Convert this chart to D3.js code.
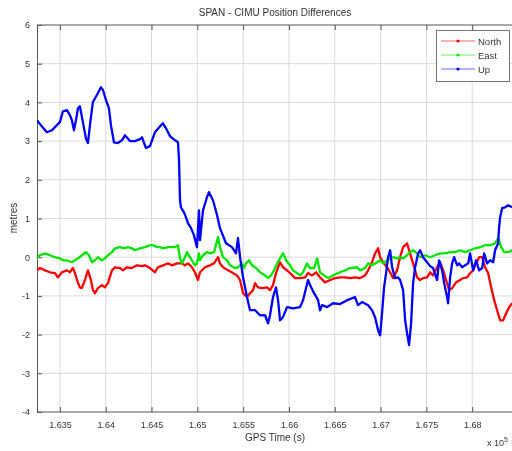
<!DOCTYPE html>
<html>
<head>
<meta charset="utf-8">
<script src="https://cdn.jsdelivr.net/npm/d3@7"></script>
<style>
        body { margin: 0; background: #fff; }
        svg { display: block; font-family: "Liberation Sans", Arial, sans-serif; }
</style>
</head>
<body>
<svg id="chart" width="512" height="451"></svg>
<script>
// SPAN - CIMU position differences, GPS time in seconds, differences in metres

var seriesNames = ['North', 'East', 'Up']
var seriesColors = ['#ff0000', '#00e600', '#0000ff']

var xTicks = [163500, 164000, 164500, 165000, 165500, 166000, 166500, 167000, 167500, 168000]
var yTicks = [-4, -3, -2, -1, 0, 1, 2, 3, 4, 5, 6]

var northData = [
        [163249,-0.34],[163282,-0.28],[163336,-0.34],[163391,-0.39],[163446,-0.41],[163478,-0.52],
        [163522,-0.39],[163577,-0.34],[163609,-0.39],[163642,-0.28],[163664,-0.41],[163686,-0.59],
        [163718,-0.78],[163740,-0.80],[163773,-0.59],[163806,-0.34],[163839,-0.59],[163860,-0.85],
        [163882,-0.93],[163915,-0.80],[163959,-0.72],[163991,-0.78],[164024,-0.67],[164068,-0.34],
        [164101,-0.26],[164155,-0.28],[164188,-0.34],[164232,-0.26],[164286,-0.28],[164341,-0.21],
        [164396,-0.23],[164428,-0.21],[164483,-0.28],[164538,-0.39],[164570,-0.26],[164625,-0.21],
        [164680,-0.16],[164723,-0.21],[164778,-0.16],[164832,-0.16],[164865,-0.21],[164898,-0.16],
        [164942,-0.26],[164974,-0.39],[165007,-0.59],[165029,-0.39],[165084,-0.26],[165138,-0.21],
        [165182,-0.16],[165226,0.00],[165247,-0.16],[165280,-0.26],[165335,-0.34],[165389,-0.41],
        [165433,-0.47],[165466,-0.59],[165499,-0.93],[165542,-1.03],[165575,-0.93],[165608,-0.85],
        [165630,-0.67],[165662,-0.78],[165706,-0.80],[165761,-0.78],[165793,-0.85],[165826,-0.72],
        [165859,-0.41],[165881,-0.26],[165903,-0.13],[165935,-0.26],[165979,-0.34],[166012,-0.41],
        [166066,-0.54],[166121,-0.54],[166176,-0.52],[166208,-0.41],[166252,-0.47],[166296,-0.39],
        [166339,-0.52],[166394,-0.65],[166449,-0.59],[166503,-0.54],[166558,-0.52],[166612,-0.52],
        [166667,-0.54],[166721,-0.52],[166776,-0.54],[166831,-0.47],[166864,-0.34],[166907,-0.13],
        [166940,0.10],[166973,0.23],[166995,0.00],[167027,-0.13],[167071,-0.26],[167104,-0.39],
        [167137,-0.54],[167180,-0.34],[167213,0.00],[167246,0.26],[167289,0.36],[167322,0.10],
        [167355,-0.16],[167399,-0.52],[167431,-0.59],[167464,-0.54],[167508,-0.52],[167541,-0.39],
        [167573,-0.47],[167617,-0.26],[167650,-0.13],[167683,-0.34],[167715,-0.59],[167748,-0.85],
        [167781,-0.80],[167825,-0.65],[167868,-0.59],[167901,-0.54],[167945,-0.52],[167977,-0.41],
        [168010,-0.34],[168043,-0.16],[168076,0.00],[168109,0.00],[168141,-0.26],[168174,-0.41],
        [168207,-0.78],[168240,-1.11],[168272,-1.37],[168305,-1.63],[168338,-1.63],[168371,-1.45],
        [168404,-1.29],[168436,-1.19]
]

var eastData = [
        [163249,0.00],[163282,0.05],[163336,0.10],[163391,0.05],[163446,0.00],[163500,-0.03],
        [163533,-0.08],[163577,-0.08],[163631,-0.13],[163664,-0.08],[163697,-0.03],[163740,0.05],
        [163784,0.13],[163817,0.05],[163850,-0.13],[163882,-0.08],[163915,0.00],[163959,-0.08],
        [163991,-0.03],[164024,0.05],[164068,0.13],[164101,0.23],[164155,0.26],[164210,0.23],
        [164243,0.26],[164286,0.23],[164319,0.18],[164374,0.23],[164428,0.26],[164483,0.31],
        [164516,0.31],[164559,0.26],[164592,0.26],[164625,0.23],[164680,0.26],[164723,0.26],
        [164756,0.26],[164789,0.31],[164811,-0.03],[164832,-0.16],[164865,0.00],[164887,0.13],
        [164920,0.00],[164953,-0.13],[164974,-0.21],[164996,-0.16],[165018,0.10],[165029,-0.08],
        [165062,0.05],[165105,0.13],[165138,0.10],[165182,0.13],[165226,0.52],[165247,0.26],
        [165280,0.00],[165324,-0.08],[165357,-0.21],[165411,-0.28],[165444,-0.26],[165488,-0.16],
        [165509,-0.28],[165531,-0.16],[165564,-0.08],[165597,-0.21],[165641,-0.28],[165684,-0.39],
        [165739,-0.47],[165772,-0.54],[165804,-0.47],[165837,-0.34],[165870,-0.16],[165903,-0.03],
        [165935,0.10],[165968,-0.08],[166012,-0.21],[166044,-0.34],[166088,-0.41],[166121,-0.47],
        [166154,-0.39],[166197,-0.16],[166230,-0.28],[166274,-0.28],[166307,-0.03],[166339,-0.39],
        [166383,-0.47],[166427,-0.54],[166481,-0.47],[166558,-0.39],[166612,-0.34],[166667,-0.28],
        [166743,-0.26],[166776,-0.34],[166831,-0.28],[166864,-0.16],[166907,-0.21],[166962,-0.13],
        [166995,-0.08],[167027,-0.16],[167071,-0.08],[167104,-0.03],[167137,0.00],[167180,-0.03],
        [167213,0.00],[167246,-0.03],[167289,0.05],[167322,0.13],[167355,0.18],[167399,0.10],
        [167431,0.00],[167486,0.05],[167541,0.00],[167595,0.05],[167650,0.10],[167704,0.10],
        [167759,0.13],[167814,0.13],[167868,0.18],[167923,0.13],[167977,0.18],[168032,0.23],
        [168087,0.26],[168141,0.31],[168196,0.31],[168250,0.36],[168283,0.49],[168316,0.26],
        [168349,0.13],[168393,0.13],[168436,0.18]
]

var upData = [
        [163249,3.54],[163304,3.38],[163358,3.23],[163413,3.28],[163446,3.36],[163500,3.49],
        [163533,3.77],[163577,3.80],[163609,3.67],[163631,3.54],[163653,3.28],[163675,3.54],
        [163697,3.85],[163718,3.90],[163751,3.49],[163784,3.07],[163806,2.95],[163828,3.41],
        [163860,4.01],[163904,4.19],[163948,4.39],[163970,4.32],[164003,4.06],[164035,3.85],
        [164057,3.41],[164090,2.97],[164133,2.95],[164177,3.02],[164210,3.15],[164265,3.00],
        [164319,3.00],[164374,3.05],[164396,3.10],[164439,2.82],[164483,2.87],[164538,3.23],
        [164592,3.38],[164625,3.46],[164658,3.33],[164701,3.13],[164756,3.02],[164789,2.97],
        [164800,2.51],[164811,1.47],[164821,1.29],[164854,1.16],[164876,1.03],[164898,0.88],
        [164931,0.75],[164963,0.57],[164996,0.26],[165018,1.21],[165029,0.44],[165062,1.21],
        [165105,1.55],[165127,1.68],[165171,1.47],[165215,1.09],[165247,0.75],[165313,0.36],
        [165378,0.26],[165422,0.10],[165444,0.49],[165466,0.00],[165499,-0.52],[165542,-1.03],
        [165575,-1.37],[165630,-1.37],[165684,-1.50],[165739,-1.50],[165772,-1.71],[165793,-1.50],
        [165826,-1.03],[165859,-0.78],[165881,-1.11],[165903,-1.63],[165935,-1.55],[165979,-1.29],
        [166044,-1.32],[166121,-1.29],[166154,-1.11],[166208,-0.59],[166230,-0.72],[166274,-0.93],
        [166318,-1.11],[166339,-1.37],[166361,-1.24],[166416,-1.29],[166481,-1.19],[166558,-1.21],
        [166634,-1.11],[166689,-1.06],[166721,-1.03],[166754,-1.24],[166798,-1.16],[166864,-1.24],
        [166907,-1.37],[166940,-1.55],[166973,-1.89],[166995,-2.02],[167016,-1.45],[167038,-0.78],
        [167060,-0.41],[167082,0.00],[167104,0.18],[167126,-0.26],[167158,-0.54],[167191,-0.52],
        [167213,-0.59],[167246,-0.85],[167268,-1.63],[167289,-1.96],[167311,-2.27],[167333,-1.71],
        [167355,-0.67],[167377,-0.26],[167410,0.10],[167431,0.18],[167464,0.00],[167508,-0.13],
        [167541,-0.23],[167573,-0.28],[167617,-0.59],[167639,-0.08],[167672,-0.34],[167694,-0.67],
        [167726,-1.03],[167737,-1.19],[167759,-0.52],[167781,-0.16],[167803,0.00],[167836,-0.21],
        [167857,-0.16],[167890,-0.26],[167923,-0.21],[167956,-0.16],[167977,0.10],[168010,-0.34],
        [168043,-0.08],[168076,-0.34],[168109,-0.28],[168130,0.10],[168163,-0.16],[168196,-0.08],
        [168229,-0.13],[168250,0.18],[168283,0.36],[168294,0.78],[168305,1.03],[168327,1.27],
        [168360,1.29],[168393,1.34],[168436,1.29]
]

var seriesData = [northData, eastData, upData]

var Chart = (function (d3) {

        "use strict";

        var svg = d3.select('#chart')
        var margin = { left: 37, top: 25, bottom: 412, right: 518 }

        var defs = svg.append('defs')
        defs.append('filter').attr('id', 'soft')
                .append('feGaussianBlur').attr('stdDeviation', 0.45)

        var root = svg.append('g').attr('filter', 'url(#soft)')

        var x = d3.scaleLinear()
                .domain([163250, 168500])
                .range([margin.left, margin.right])
        var y = d3.scaleLinear()
                .domain([-4, 6])
                .range([margin.bottom, margin.top])

        var clip = defs.append('clipPath').attr('id', 'plotclip')
        clip.append('rect')
                .attr('x', margin.left).attr('y', margin.top)
                .attr('width', margin.right - margin.left)
                .attr('height', margin.bottom - margin.top)

        // grid
        var grid = root.append('g').attr('class', 'grid')
        grid.selectAll('line.vx')
                .data(xTicks)
                .enter().append('line')
                .attr('class', 'vx')
                .attr('x1', function (d) { return x(d) }).attr('x2', function (d) { return x(d) })
                .attr('y1', margin.top).attr('y2', margin.bottom)
        grid.selectAll('line.hy')
                .data(yTicks.slice(1, -1))
                .enter().append('line')
                .attr('class', 'hy')
                .attr('x1', margin.left).attr('x2', margin.right)
                .attr('y1', function (d) { return y(d) }).attr('y2', function (d) { return y(d) })
        grid.selectAll('line')
                .attr('stroke', '#d9d9d9')
                .attr('stroke-width', 1)

        // axes, matlab style: ticks inside, box all round, plain hyphen minus
        var fmtX = function (d) { return d3.format('.4~f')(d / 1e5) }
        var fmtY = function (d) { return String(d) }
        var xAxis = root.append('g')
                .attr('transform', 'translate(0,' + margin.bottom + ')')
                .call(d3.axisBottom(x).tickValues(xTicks).tickSize(-5).tickPadding(10).tickFormat(fmtX))
        var xTop = root.append('g')
                .attr('transform', 'translate(0,' + margin.top + ')')
                .call(d3.axisTop(x).tickValues(xTicks).tickSize(-5).tickFormat(''))
        var yAxis = root.append('g')
                .attr('transform', 'translate(' + margin.left + ',0)')
                .call(d3.axisLeft(y).tickValues(yTicks).tickSize(-5).tickPadding(7).tickFormat(fmtY))

        ;[xAxis, xTop, yAxis].forEach(function (g) {
                g.select('.domain').attr('stroke', '#555').attr('stroke-width', 1)
                g.selectAll('.tick line').attr('stroke', '#555')
                g.selectAll('.tick text')
                        .attr('fill', '#333')
                        .style('font-size', '9px')
                        .style('font-family', '"Liberation Sans", Arial, sans-serif')
        })
        xTop.select('.domain').attr('d', 'M' + margin.left + ',0H' + margin.right)
        xAxis.select('.domain').attr('d', 'M' + margin.left + ',0H' + margin.right)

        // lines
        var line = d3.line()
                .x(function (d) { return x(d[0]) })
                .y(function (d) { return y(d[1]) })

        root.append('g')
                .attr('clip-path', 'url(#plotclip)')
                .selectAll('path')
                .data(seriesData)
                .enter().append('path')
                .attr('d', line)
                .attr('fill', 'none')
                .attr('stroke', function (d, i) { return seriesColors[i] })
                .attr('stroke-width', 2.3)
                .attr('stroke-linejoin', 'round')

        // texts
        root.append('text')
                .attr('x', 275).attr('y', 16)
                .attr('text-anchor', 'middle')
                .attr('fill', '#333')
                .style('font-size', '10px')
                .text('SPAN - CIMU Position Differences')

        root.append('text')
                .attr('x', 275).attr('y', 441)
                .attr('text-anchor', 'middle')
                .attr('fill', '#333')
                .style('font-size', '10px')
                .text('GPS Time (s)')

        root.append('text')
                .attr('transform', 'translate(17,218) rotate(-90)')
                .attr('text-anchor', 'middle')
                .attr('fill', '#333')
                .style('font-size', '10px')
                .text('metres')

        var mult = root.append('text')
                .attr('x', 487).attr('y', 446)
                .attr('fill', '#333')
                .style('font-size', '9px')
        mult.append('tspan').text('x 10')
        mult.append('tspan').attr('dy', -4).style('font-size', '7px').text('5')

        // legend
        var legend = root.append('g').attr('class', 'legend')
        legend.append('rect')
                .attr('x', 436.5).attr('y', 30.5)
                .attr('width', 73).attr('height', 51)
                .attr('fill', '#fff')
                .attr('stroke', '#777')
        var items = legend.selectAll('g.item')
                .data(seriesNames)
                .enter().append('g')
                .attr('class', 'item')
                .attr('transform', function (d, i) { return 'translate(0,' + (41 + i * 14) + ')' })
        items.append('line')
                .attr('x1', 441).attr('x2', 475)
                .attr('stroke', function (d, i) { return seriesColors[i] })
                .attr('stroke-width', 1)
                .attr('stroke-opacity', 0.6)
        items.append('circle')
                .attr('cx', 458).attr('r', 1.6)
                .attr('fill', function (d, i) { return seriesColors[i] })
        items.append('text')
                .attr('x', 478).attr('y', 3.5)
                .attr('fill', '#333')
                .style('font-size', '9.5px')
                .text(function (d) { return d })

        return { x: x, y: y }

})(d3);
</script>
</body>
</html>
